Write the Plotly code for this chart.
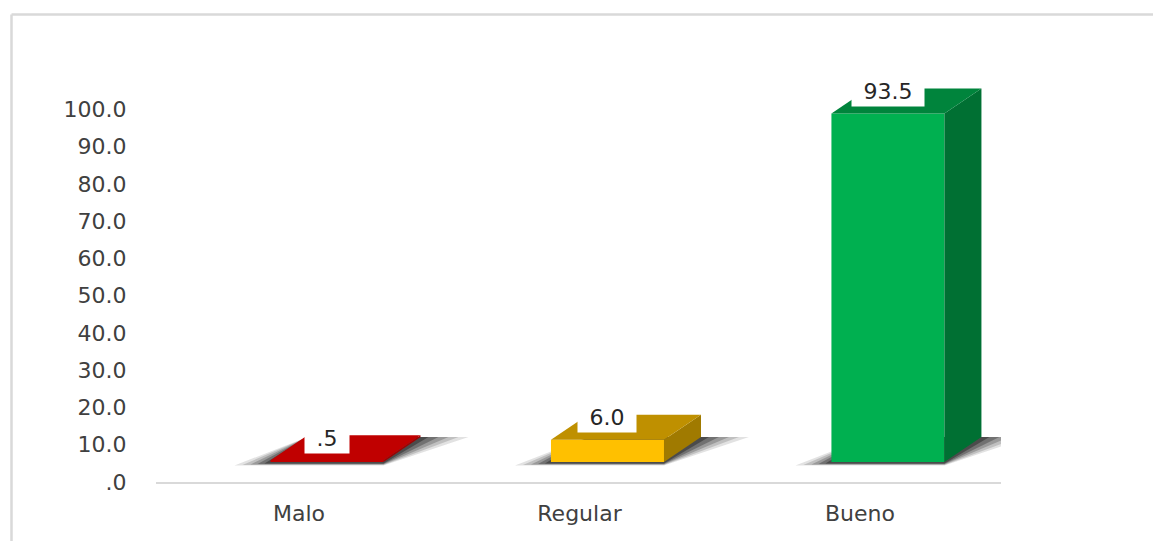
import plotly.graph_objects as go

# Data
categories = ["Malo", "Regular", "Bueno"]
values = [0.5, 6.0, 93.5]
value_labels = [".5", "6.0", "93.5"]
y_tick_vals = [0, 10, 20, 30, 40, 50, 60, 70, 80, 90, 100]
y_tick_text = [".0", "10.0", "20.0", "30.0", "40.0", "50.0", "60.0", "70.0", "80.0", "90.0", "100.0"]

front_colors = ["#C00000", "#FFC000", "#00B050"]
top_colors = ["#C00000", "#BF9000", "#00843C"]
side_colors = ["#A00000", "#A07A00", "#007033"]

# Canvas / plot-area geometry (pixels)
W, H = 1153, 541
px_per_y = 3.73
y_axis_max = 110.0
L, R, B = 156, 152, 59
T = H - B - int(round(y_axis_max * px_per_y))
plot_w = W - L - R
plot_h = H - T - B
px_per_y = plot_h / y_axis_max
x_range = [-0.51, 2.503]
px_per_x = plot_w / (x_range[1] - x_range[0])

# 3D look: bars sit on a floor raised above the category axis and shifted right
floor_px = 20
shift_x = 28 / px_per_x
floor_y = floor_px / px_per_y
depth_dx = 37 / px_per_x
depth_dy = 25 / px_per_y
bar_w = 113 / px_per_x
x2_range = [x_range[0] - shift_x, x_range[1] - shift_x]
y2_range = [-floor_y, y_axis_max - floor_y]

fig = go.Figure()

xs = list(range(len(categories)))

# Category axis carrier (invisible points so the axis shows category labels)
fig.add_trace(go.Scatter(x=xs, y=[0] * len(xs), mode="markers",
                         marker=dict(opacity=0), hoverinfo="skip",
                         showlegend=False))


def poly(pts, color, opacity=1.0, on_floor_axes=True):
    px = [p[0] for p in pts] + [pts[0][0]]
    py = [p[1] for p in pts] + [pts[0][1]]
    if on_floor_axes:
        axes = dict(xaxis="x2", yaxis="y2")
    else:
        # same geometry expressed on the category axes
        px = [p + shift_x for p in px]
        py = [p + floor_y for p in py]
        axes = dict(xaxis="x", yaxis="y")
    return go.Scatter(x=px, y=py, mode="lines", fill="toself",
                      fillcolor=color, line=dict(width=0), opacity=opacity,
                      hoverinfo="skip", showlegend=False, **axes)


# Floor shadows (layered to look soft), drawn beneath the bars
for i, v in enumerate(values):
    xl = xs[i] - bar_w / 2
    xr = xs[i] + bar_w / 2
    for ext_l, ext_r, lo_px, op in [(36, 48, 3.5, 0.12), (28, 38, 3, 0.16),
                                    (20, 28, 2.5, 0.22), (13, 18, 2, 0.30),
                                    (6, 8, 1.5, 0.40)]:
        el = ext_l / px_per_x
        er = ext_r / px_per_x
        lo = -lo_px / px_per_y
        pts = [(xl - el, lo), (xr, lo), (xr + depth_dx + er, depth_dy),
               (xl + depth_dx, depth_dy)]
        fig.add_trace(poly(pts, "rgb(20,20,20)", op, on_floor_axes=False))

# Bars: front faces as bars, side and top faces as filled polygons
fig.add_trace(go.Bar(x=xs, y=values, width=bar_w, xaxis="x2", yaxis="y2",
                     marker=dict(color=front_colors, line=dict(width=0)),
                     hoverinfo="skip", showlegend=False))

for i, v in enumerate(values):
    xl = xs[i] - bar_w / 2
    xr = xs[i] + bar_w / 2
    side = [(xr, 0), (xr, v), (xr + depth_dx, v + depth_dy), (xr + depth_dx, depth_dy)]
    top = [(xl, v), (xr, v), (xr + depth_dx, v + depth_dy), (xl + depth_dx, v + depth_dy)]
    fig.add_trace(poly(side, side_colors[i]))
    fig.add_trace(poly(top, top_colors[i]))

# Value labels in white boxes
for i, v in enumerate(values):
    txt = value_labels[i]
    fig.add_annotation(x=xs[i], y=v, xref="x2", yref="y2", text=txt,
                       showarrow=False, yshift=22, bgcolor="white",
                       width=14 * len(txt) + 14, height=27,
                       font=dict(family="DejaVu Sans", size=22, color="#262626"))

# Chart-area border (left and top edges visible)
top_edge = 1 + (T - 14.5) / plot_h
left_edge = (11.5 - L) / plot_w
fig.add_shape(type="line", xref="paper", yref="paper",
              x0=left_edge, x1=(W + 5 - L) / plot_w, y0=top_edge, y1=top_edge,
              line=dict(color="#D9D9D9", width=2.5))
fig.add_shape(type="line", xref="paper", yref="paper",
              x0=left_edge, x1=left_edge, y0=top_edge, y1=-(B + 5) / plot_h,
              line=dict(color="#D9D9D9", width=2.5))

fig.update_layout(
    width=W, height=H,
    margin=dict(l=L, r=R, t=T, b=B, pad=0),
    paper_bgcolor="white", plot_bgcolor="white",
    showlegend=False,
    font=dict(family="DejaVu Sans", size=22, color="#404040"),
    xaxis=dict(range=x_range, tickvals=xs, ticktext=categories,
               showgrid=False, zeroline=False, showline=True,
               linecolor="#D9D9D9", linewidth=2,
               ticks="outside", ticklen=11, tickcolor="rgba(0,0,0,0)",
               fixedrange=True),
    yaxis=dict(range=[0, y_axis_max], tickvals=y_tick_vals, ticktext=y_tick_text,
               showgrid=False, zeroline=False, showline=False,
               ticks="outside", ticklen=24, tickcolor="rgba(0,0,0,0)",
               fixedrange=True),
    xaxis2=dict(range=x2_range, overlaying="x", visible=False, fixedrange=True),
    yaxis2=dict(range=y2_range, overlaying="y", visible=False, fixedrange=True),
)

fig.write_html("out.html")
